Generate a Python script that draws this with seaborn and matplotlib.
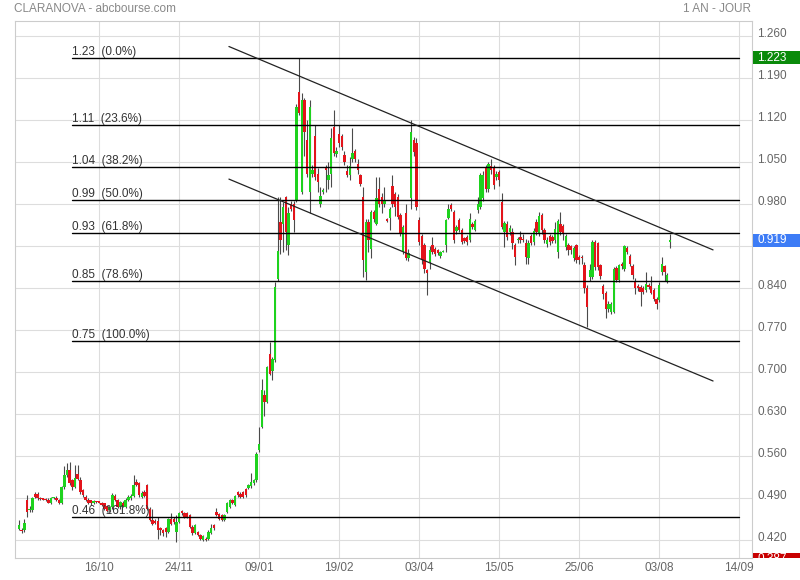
import matplotlib
matplotlib.use("Agg")
import matplotlib.pyplot as plt
from matplotlib.patches import Rectangle
import numpy as np
import pandas as pd
import seaborn as sns

# daily candles, oldest first (one year, daily)
opens = [
    0.438, 0.437, 0.436, 0.487, 0.469, 0.469, 0.497, 0.497, 0.489, 0.488,
    0.488, 0.487, 0.481, 0.489, 0.490, 0.487, 0.481, 0.508, 0.528, 0.536,
    0.519, 0.508, 0.529, 0.519, 0.503, 0.492, 0.487, 0.486, 0.481, 0.484,
    0.484, 0.482, 0.481, 0.476, 0.469, 0.474, 0.493, 0.486, 0.475, 0.482,
    0.475, 0.486, 0.489, 0.493, 0.517, 0.514, 0.492, 0.500, 0.511, 0.472,
    0.453, 0.452, 0.452, 0.440, 0.436, 0.439, 0.433, 0.455, 0.455, 0.433,
    0.450, 0.467, 0.464, 0.464, 0.461, 0.442, 0.431, 0.433, 0.428, 0.420,
    0.422, 0.422, 0.431, 0.444, 0.467, 0.463, 0.461, 0.453, 0.467, 0.475,
    0.486, 0.478, 0.500, 0.497, 0.500, 0.504, 0.506, 0.509, 0.514, 0.519,
    0.569, 0.608, 0.661, 0.650, 0.730, 0.702, 0.719, 0.855, 0.950, 0.947,
    0.991, 0.911, 0.980, 0.980, 0.986, 1.167, 1.000, 1.153, 1.086, 1.000,
    1.030, 1.092, 1.030, 0.980, 1.000, 1.042, 1.020, 1.030, 1.108, 1.063,
    1.097, 1.092, 1.061, 1.034, 1.028, 1.054, 1.068, 1.047, 1.028, 0.992,
    0.866, 0.950, 0.905, 0.967, 0.947, 1.005, 0.992, 0.980, 0.954, 0.957,
    1.010, 0.997, 0.992, 0.961, 0.900, 0.965, 0.890, 0.989, 1.086, 1.081,
    0.953, 0.926, 0.911, 0.870, 0.883, 0.911, 0.905, 0.903, 0.893, 0.900,
    0.911, 0.957, 0.978, 0.967, 0.935, 0.953, 0.936, 0.922, 0.925, 0.919,
    0.947, 0.937, 0.969, 0.975, 0.990, 1.042, 1.005, 1.043, 1.042, 1.025,
    1.033, 0.983, 0.933, 0.947, 0.933, 0.933, 0.911, 0.919, 0.924, 0.922,
    0.915, 0.890, 0.926, 0.917, 0.950, 0.930, 0.961, 0.936, 0.913, 0.926,
    0.925, 0.919, 0.900, 0.946, 0.943, 0.908, 0.911, 0.909, 0.889, 0.911,
    0.892, 0.892, 0.878, 0.839, 0.858, 0.858, 0.917, 0.915, 0.878, 0.843,
    0.832, 0.805, 0.800, 0.800, 0.872, 0.853, 0.880, 0.872, 0.907, 0.893,
    0.876, 0.852, 0.843, 0.842, 0.840, 0.836, 0.844, 0.843, 0.837, 0.822,
    0.820, 0.867, 0.876, 0.852, 0.917,
]
highs = [
    0.453, 0.440, 0.454, 0.494, 0.476, 0.492, 0.500, 0.499, 0.491, 0.490,
    0.490, 0.489, 0.491, 0.492, 0.493, 0.488, 0.510, 0.543, 0.548, 0.550,
    0.522, 0.544, 0.544, 0.524, 0.505, 0.494, 0.489, 0.487, 0.487, 0.485,
    0.485, 0.483, 0.482, 0.478, 0.476, 0.498, 0.497, 0.488, 0.485, 0.484,
    0.489, 0.494, 0.496, 0.528, 0.522, 0.517, 0.502, 0.503, 0.513, 0.474,
    0.472, 0.455, 0.458, 0.442, 0.438, 0.441, 0.457, 0.464, 0.458, 0.461,
    0.467, 0.469, 0.466, 0.467, 0.463, 0.444, 0.447, 0.435, 0.430, 0.428,
    0.424, 0.436, 0.447, 0.446, 0.473, 0.465, 0.463, 0.463, 0.483, 0.488,
    0.488, 0.495, 0.502, 0.499, 0.502, 0.506, 0.513, 0.531, 0.521, 0.566,
    0.608, 0.688, 0.669, 0.710, 0.750, 0.724, 0.850, 0.991, 0.991, 0.983,
    0.993, 0.975, 0.985, 0.985, 1.147, 1.223, 1.164, 1.156, 1.119, 1.153,
    1.045, 1.111, 1.040, 1.008, 1.006, 1.045, 1.050, 1.106, 1.136, 1.075,
    1.111, 1.097, 1.068, 1.045, 1.058, 1.106, 1.072, 1.055, 1.030, 1.008,
    0.955, 0.955, 0.970, 0.970, 1.025, 1.025, 0.998, 1.008, 0.956, 0.975,
    1.028, 1.000, 0.997, 0.964, 0.945, 0.980, 0.905, 1.119, 1.092, 1.089,
    0.958, 0.930, 0.915, 0.872, 0.910, 0.925, 0.908, 0.905, 0.902, 0.903,
    0.955, 0.980, 0.982, 0.970, 0.945, 0.956, 0.940, 0.925, 0.928, 0.964,
    0.950, 0.955, 0.992, 1.031, 1.035, 1.045, 1.050, 1.055, 1.045, 1.035,
    1.036, 0.998, 0.952, 0.952, 0.944, 0.939, 0.915, 0.925, 0.935, 0.930,
    0.922, 0.920, 0.930, 0.940, 0.955, 0.967, 0.965, 0.940, 0.925, 0.930,
    0.928, 0.950, 0.955, 0.967, 0.946, 0.930, 0.914, 0.912, 0.910, 0.913,
    0.895, 0.894, 0.883, 0.845, 0.880, 0.919, 0.919, 0.917, 0.880, 0.846,
    0.835, 0.818, 0.816, 0.875, 0.876, 0.880, 0.883, 0.912, 0.910, 0.896,
    0.879, 0.856, 0.846, 0.845, 0.843, 0.867, 0.848, 0.860, 0.840, 0.825,
    0.850, 0.891, 0.878, 0.864, 0.930,
]
lows = [
    0.436, 0.431, 0.433, 0.458, 0.466, 0.466, 0.489, 0.487, 0.487, 0.486,
    0.485, 0.481, 0.479, 0.488, 0.485, 0.479, 0.479, 0.505, 0.525, 0.512,
    0.503, 0.506, 0.519, 0.497, 0.491, 0.484, 0.480, 0.478, 0.479, 0.482,
    0.481, 0.477, 0.470, 0.466, 0.467, 0.472, 0.484, 0.473, 0.472, 0.474,
    0.473, 0.485, 0.487, 0.491, 0.509, 0.492, 0.490, 0.491, 0.470, 0.451,
    0.444, 0.446, 0.422, 0.428, 0.426, 0.424, 0.431, 0.445, 0.447, 0.417,
    0.448, 0.462, 0.456, 0.456, 0.440, 0.428, 0.429, 0.426, 0.419, 0.418,
    0.418, 0.420, 0.429, 0.437, 0.459, 0.453, 0.451, 0.451, 0.465, 0.473,
    0.479, 0.476, 0.492, 0.490, 0.490, 0.492, 0.504, 0.507, 0.512, 0.517,
    0.566, 0.606, 0.627, 0.648, 0.694, 0.686, 0.716, 0.852, 0.897, 0.900,
    0.903, 0.894, 0.968, 0.933, 0.983, 1.128, 0.997, 1.060, 1.025, 0.964,
    1.025, 1.020, 1.000, 0.975, 0.996, 1.000, 1.005, 1.008, 1.060, 1.058,
    1.075, 1.070, 1.045, 1.025, 1.020, 1.050, 1.050, 1.030, 1.010, 0.858,
    0.853, 0.900, 0.890, 0.950, 0.944, 0.975, 0.965, 0.975, 0.950, 0.936,
    0.975, 0.960, 0.955, 0.926, 0.897, 0.886, 0.885, 0.972, 1.060, 0.970,
    0.912, 0.880, 0.864, 0.828, 0.872, 0.897, 0.893, 0.895, 0.890, 0.899,
    0.900, 0.955, 0.968, 0.915, 0.930, 0.933, 0.913, 0.914, 0.912, 0.916,
    0.938, 0.935, 0.964, 0.972, 0.985, 1.000, 1.000, 1.030, 1.005, 1.020,
    1.010, 0.938, 0.908, 0.920, 0.928, 0.905, 0.878, 0.915, 0.915, 0.917,
    0.880, 0.880, 0.912, 0.912, 0.928, 0.926, 0.930, 0.915, 0.908, 0.912,
    0.914, 0.915, 0.890, 0.928, 0.920, 0.903, 0.895, 0.897, 0.884, 0.882,
    0.880, 0.880, 0.832, 0.774, 0.852, 0.855, 0.870, 0.870, 0.855, 0.822,
    0.789, 0.800, 0.797, 0.798, 0.850, 0.850, 0.872, 0.868, 0.896, 0.876,
    0.855, 0.830, 0.835, 0.810, 0.830, 0.833, 0.838, 0.829, 0.818, 0.805,
    0.816, 0.862, 0.852, 0.848, 0.907,
]
closes = [
    0.444, 0.434, 0.448, 0.467, 0.471, 0.489, 0.492, 0.489, 0.488, 0.487,
    0.486, 0.482, 0.489, 0.490, 0.486, 0.481, 0.508, 0.528, 0.536, 0.514,
    0.508, 0.522, 0.522, 0.500, 0.494, 0.486, 0.482, 0.481, 0.485, 0.483,
    0.482, 0.478, 0.472, 0.468, 0.475, 0.494, 0.486, 0.475, 0.483, 0.476,
    0.487, 0.492, 0.493, 0.511, 0.511, 0.494, 0.498, 0.493, 0.472, 0.453,
    0.447, 0.448, 0.436, 0.436, 0.431, 0.433, 0.455, 0.447, 0.450, 0.450,
    0.464, 0.464, 0.458, 0.458, 0.442, 0.431, 0.444, 0.428, 0.421, 0.426,
    0.420, 0.433, 0.439, 0.439, 0.461, 0.455, 0.453, 0.461, 0.481, 0.486,
    0.481, 0.493, 0.494, 0.492, 0.492, 0.494, 0.511, 0.517, 0.519, 0.563,
    0.580, 0.669, 0.650, 0.708, 0.697, 0.722, 0.841, 0.902, 0.919, 0.975,
    0.933, 0.964, 0.972, 0.953, 1.142, 1.131, 1.153, 1.100, 1.030, 1.142,
    1.036, 1.025, 1.017, 0.993, 1.003, 1.036, 1.028, 1.089, 1.064, 1.068,
    1.081, 1.075, 1.050, 1.028, 1.043, 1.064, 1.055, 1.036, 1.013, 0.886,
    0.950, 0.919, 0.967, 0.954, 0.989, 0.980, 0.980, 0.986, 0.952, 0.972,
    0.980, 0.975, 0.958, 0.929, 0.942, 0.890, 0.898, 1.100, 1.067, 0.975,
    0.916, 0.886, 0.872, 0.864, 0.903, 0.900, 0.897, 0.898, 0.900, 0.902,
    0.953, 0.972, 0.972, 0.919, 0.942, 0.936, 0.916, 0.918, 0.916, 0.955,
    0.942, 0.952, 0.980, 1.028, 1.028, 1.005, 1.047, 1.036, 1.011, 1.030,
    1.019, 0.942, 0.948, 0.925, 0.940, 0.914, 0.892, 0.920, 0.919, 0.920,
    0.892, 0.914, 0.915, 0.935, 0.933, 0.959, 0.936, 0.920, 0.920, 0.917,
    0.918, 0.938, 0.952, 0.933, 0.932, 0.926, 0.903, 0.903, 0.907, 0.886,
    0.886, 0.889, 0.839, 0.808, 0.870, 0.916, 0.875, 0.875, 0.859, 0.830,
    0.804, 0.813, 0.813, 0.872, 0.853, 0.878, 0.876, 0.909, 0.900, 0.880,
    0.861, 0.840, 0.839, 0.833, 0.833, 0.846, 0.842, 0.832, 0.822, 0.813,
    0.845, 0.880, 0.867, 0.861, 0.919,
]

# x axis: trading-day index of each date label
date_pos = [30, 60, 90, 120, 150, 180, 210, 240, 270]
date_labels = ["16/10", "24/11", "09/01", "19/02", "03/04", "15/05", "25/06", "03/08", "14/09"]
price_ticks = [0.42, 0.49, 0.56, 0.63, 0.70, 0.77, 0.84, 0.91, 0.98, 1.05, 1.12, 1.19, 1.26]

# fibonacci retracement levels
fib_levels = [1.223, 1.111, 1.042, 0.987, 0.931, 0.852, 0.751, 0.458]
fib_labels = ["1.23  (0.0%)", "1.11  (23.6%)", "1.04  (38.2%)", "0.99  (50.0%)",
              "0.93  (61.8%)", "0.85  (78.6%)", "0.75  (100.0%)", "0.46  (161.8%)"]
fib_span = [20, 270]

# channel lines (index, price)
upper_line_x = [78.7, 260.2]
upper_line_y = [1.242, 0.903]
lower_line_x = [78.7, 260.2]
lower_line_y = [1.021, 0.6845]

# right hand value boxes
last_value = 0.919
max_value = 1.223
min_value = 0.387

sns.set_theme(style="white")
plt.rcParams['font.family'] = ['Liberation Sans', 'DejaVu Sans']

W, H = 800, 580
fig = plt.figure(figsize=(8, 5.8), dpi=100)
left, right, top, bottom = 15, 752, 21, 558
ax = fig.add_axes([left / W, (H - bottom) / H, (right - left) / W, (bottom - top) / H])

ylim = (0.3895, 1.2845)
xlim = (-1.5, 274.8)
ax.set_xlim(*xlim)
ax.set_ylim(*ylim)

# grid and frame
ax.set_xticks(date_pos, date_labels)
ax.set_yticks(price_ticks)
ax.set_yticklabels([])
ax.tick_params(axis='both', length=0)
ax.tick_params(axis='x', pad=3, labelsize=8.5, labelcolor='#666666')
ax.grid(True, color='#dddddd', lw=0.8)
for sp in ax.spines.values():
    sp.set_color('#cccccc')
    sp.set_linewidth(0.8)

df = pd.DataFrame({'o': opens, 'h': highs, 'l': lows, 'c': closes})
df['i'] = np.arange(len(df))
up = df['c'] >= df['o']
body_bottom = df[['o', 'c']].min(axis=1)
body_height = (df['c'] - df['o']).abs().clip(lower=0.0018)
colors = np.where(up, '#1ed21e', '#e3141b')

ax.vlines(df['i'], df['l'], df['h'], color='#4a4a4a', lw=0.8, zorder=3)
ax.bar(df['i'], body_height, bottom=body_bottom, width=0.9, color=colors,
       linewidth=0, zorder=4)

# fibonacci levels
for lvl, lab in zip(fib_levels, fib_labels):
    ax.plot(fib_span, [lvl, lvl], color='black', lw=1.0, zorder=5)
    ax.annotate(lab, (fib_span[0], lvl), xytext=(0, 2), textcoords='offset points',
                fontsize=8.5, color='#333333', va='baseline', ha='left', zorder=6)

# channel
sns.lineplot(x=upper_line_x, y=upper_line_y, ax=ax, color='#222222', lw=0.9, zorder=5)
sns.lineplot(x=lower_line_x, y=lower_line_y, ax=ax, color='#222222', lw=0.9, zorder=5)

# right price column
lab_ax = fig.add_axes([right / W, (H - bottom) / H, (W - right) / W, (bottom - top) / H])
lab_ax.set_xlim(0, 1)
lab_ax.set_ylim(*ylim)
lab_ax.axis('off')
tx = 5 / 48
box_h = 0.0215
boxes = [(max_value, '#0a8a0a'), (last_value, '#3d7cf6'), (min_value, '#c80000')]

for v in price_ticks:
    # labels hidden behind a value box are not drawn
    if any(abs(v - b) < box_h for b, _ in boxes):
        continue
    lab_ax.text(tx, v - 0.0015, f"{v:.3f}", fontsize=8.5, color='#666666',
                va='baseline', ha='left', clip_on=True, zorder=2)

for v, col in boxes:
    lab_ax.add_patch(Rectangle((0.02, v - box_h / 2), 0.98, box_h, facecolor=col,
                               edgecolor='none', zorder=3, clip_on=True))
    lab_ax.text(tx, v, f"{v:.3f}", fontsize=8.5, color='white', va='center',
                ha='left', clip_on=True, zorder=4)

fig.text(14 / W, 1 - 9 / H, "CLARANOVA - abcbourse.com", fontsize=8.5,
         color='#888888', va='center', ha='left')
fig.text(751 / W, 1 - 9 / H, "1 AN - JOUR", fontsize=8.5,
         color='#888888', va='center', ha='right')

fig.savefig("out.png", dpi=100)
